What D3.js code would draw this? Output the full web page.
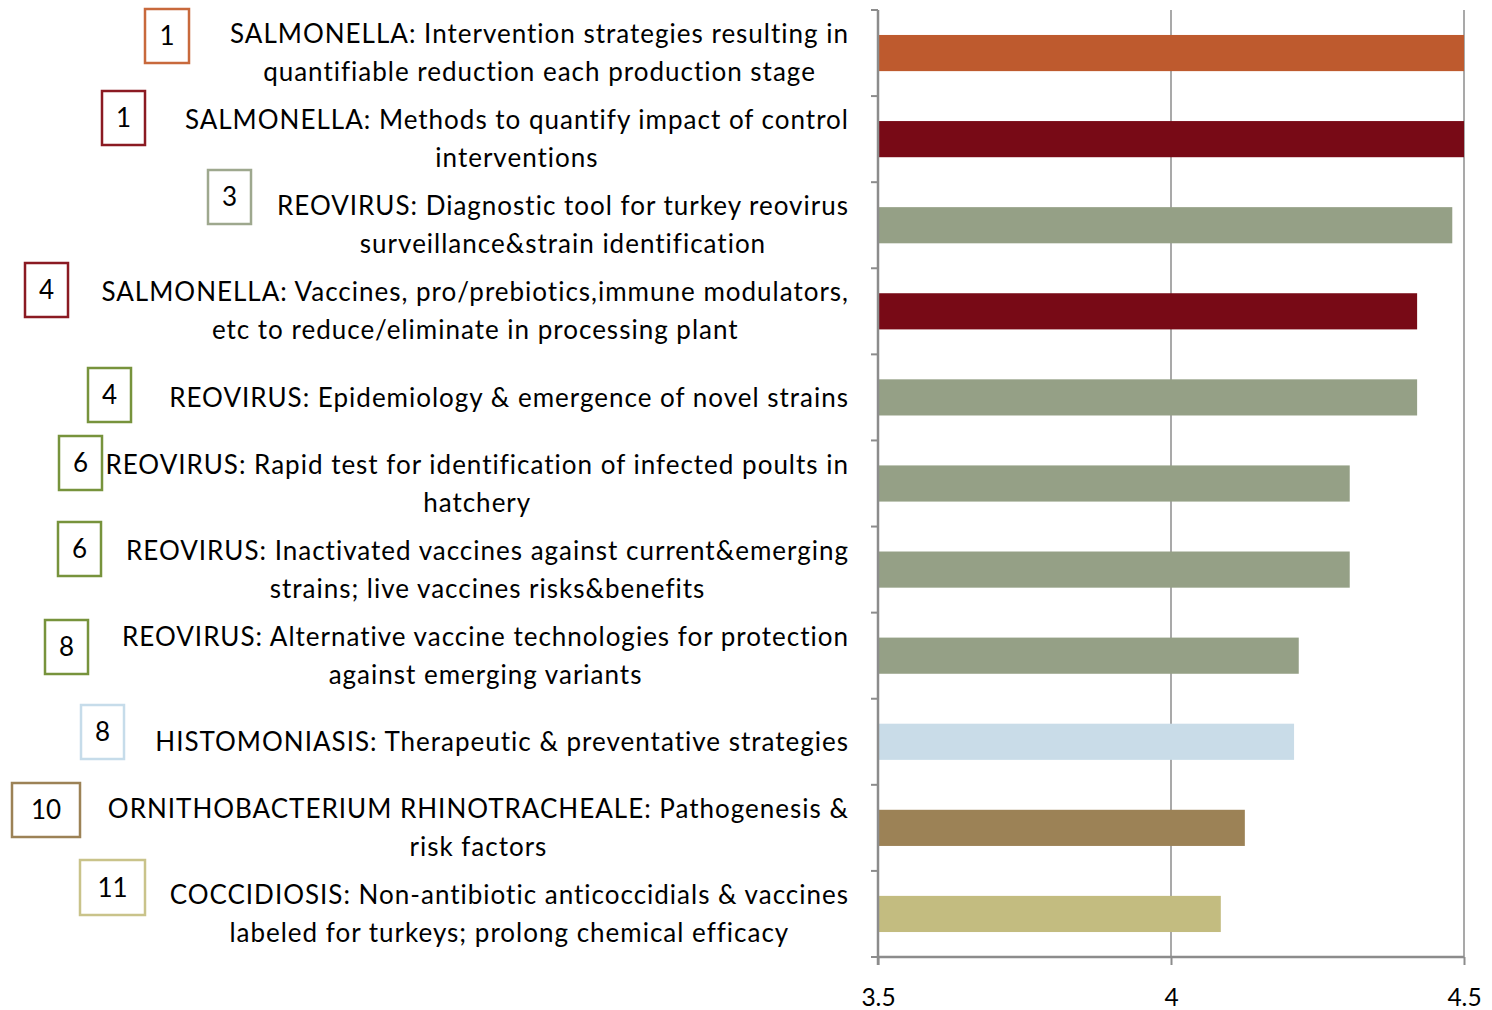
<!DOCTYPE html>
<html><head><meta charset="utf-8">
<script src="https://cdn.jsdelivr.net/npm/d3@7"></script>
<style>
html,body{margin:0;padding:0;background:#fff;}
svg{display:block;}
</style></head>
<body>
<svg id="chart" width="1492" height="1010"></svg>
<script>
// ---- data ----
const categories = [
  ["SALMONELLA: Intervention strategies resulting in", "quantifiable reduction each production stage"],
  ["SALMONELLA: Methods to quantify impact of control", "interventions"],
  ["REOVIRUS: Diagnostic tool for turkey reovirus", "surveillance&strain identification"],
  ["SALMONELLA: Vaccines, pro/prebiotics,immune modulators,", "etc to reduce/eliminate in processing plant"],
  ["REOVIRUS: Epidemiology & emergence of novel strains"],
  ["REOVIRUS: Rapid test for identification of infected poults in", "hatchery"],
  ["REOVIRUS: Inactivated vaccines against current&emerging", "strains; live vaccines risks&benefits"],
  ["REOVIRUS: Alternative vaccine technologies for protection", "against emerging variants"],
  ["HISTOMONIASIS: Therapeutic & preventative strategies"],
  ["ORNITHOBACTERIUM RHINOTRACHEALE: Pathogenesis &", "risk factors"],
  ["COCCIDIOSIS: Non-antibiotic anticoccidials & vaccines", "labeled for turkeys; prolong chemical efficacy"]
];
const values = [4.5, 4.5, 4.48, 4.42, 4.42, 4.305, 4.305, 4.218, 4.21, 4.126, 4.085];
const ranks = ["1", "1", "3", "4", "4", "6", "6", "8", "8", "10", "11"];
const xTicks = [3.5, 4, 4.5];

// ---- styles ----
const barColors = ["#BE5A2E", "#780A16", "#95A086", "#780A16", "#95A086", "#95A086", "#95A086", "#95A086", "#C9DCE8", "#9C8256", "#C3BC80"];
const boxColors = ["#C8693C", "#8B1A22", "#9EA88E", "#8B1A22", "#77933C", "#77933C", "#77933C", "#77933C", "#C6DCEA", "#9C8256", "#C9C38A"];
// rank box layout [left, top, width, height]
const boxLayout = [
  [145, 9, 44, 54], [102, 91, 43, 54], [208, 170, 43, 54], [25, 263, 43, 54],
  [88, 368, 43, 54], [59, 436, 43, 54], [58, 522, 43, 54], [45, 620, 43, 54],
  [81, 705, 43, 54], [12, 783, 68, 54], [80, 860, 65, 55]
];

const svg = d3.select("#chart");
const plotLeft = 878, plotRight = 1464, plotTop = 10, plotBottom = 957;
const fontFam = "Lato, 'Open Sans', sans-serif";

const x = d3.scaleLinear().domain([3.5, 4.5]).range([plotLeft, plotRight]);
const y = d3.scaleBand().domain(d3.range(categories.length))
  .range([plotTop, plotBottom]).paddingInner(0.58).paddingOuter(0.29);

// gridlines
svg.append("g").selectAll("line").data(xTicks.slice(1)).join("line")
  .attr("x1", d => x(d)).attr("x2", d => x(d))
  .attr("y1", plotTop).attr("y2", plotBottom)
  .attr("stroke", "#8c8c8c").attr("stroke-width", 1.5);

// bars
svg.append("g").selectAll("rect").data(values).join("rect")
  .attr("x", x(3.5)).attr("y", (d, i) => y(i))
  .attr("width", d => x(d) - x(3.5)).attr("height", y.bandwidth())
  .attr("fill", (d, i) => barColors[i]);

// x axis
const xAxis = svg.append("g").attr("transform", `translate(0,${plotBottom})`)
  .call(d3.axisBottom(x).tickValues(xTicks).tickFormat(d3.format("")).tickSize(8).tickPadding(24));
xAxis.select(".domain").attr("stroke", "#8c8c8c").attr("stroke-width", 2.5).attr("d", `M${plotLeft},0H${plotRight}`);
xAxis.selectAll(".tick line").attr("stroke", "#8c8c8c").attr("stroke-width", 2);
xAxis.selectAll(".tick text").attr("font-family", fontFam).attr("font-size", 24.5).attr("fill", "#000");

// y axis line & band boundary ticks
const yEdges = d3.range(categories.length + 1).map(i => plotTop + i * y.step());
svg.append("line").attr("x1", plotLeft).attr("x2", plotLeft).attr("y1", plotTop).attr("y2", plotBottom + 8)
  .attr("stroke", "#8c8c8c").attr("stroke-width", 2.5);
svg.append("g").selectAll("line").data(yEdges).join("line")
  .attr("x1", plotLeft - 7).attr("x2", plotLeft).attr("y1", d => d).attr("y2", d => d)
  .attr("stroke", "#8c8c8c").attr("stroke-width", 2);

// category labels: centered lines, block right aligned at 849
const labelRight = 849, lineH = 38, fs = 26;
const lg = svg.append("g").attr("font-family", fontFam).attr("font-size", fs)
  .attr("letter-spacing", "1px").attr("fill", "#000");
categories.forEach((lines, i) => {
  const cy = y(i) + y.bandwidth() / 2;
  const g = lg.append("g");
  const texts = lines.map((t, k) => g.append("text").text(t)
    .attr("y", cy + (k - (lines.length - 1) / 2) * lineH).attr("dy", "0.35em").attr("text-anchor", "middle"));
  const w = d3.max(texts, t => t.node().getComputedTextLength());
  texts.forEach(t => t.attr("x", labelRight - w / 2));
});

// rank boxes
const bg = svg.append("g");
ranks.forEach((r, i) => {
  const [bx, by, bw, bh] = boxLayout[i];
  bg.append("rect").attr("x", bx).attr("y", by).attr("width", bw).attr("height", bh)
    .attr("fill", "#fff").attr("stroke", boxColors[i]).attr("stroke-width", 2.5);
  bg.append("text").text(r).attr("x", bx + bw / 2).attr("y", by + bh / 2).attr("dy", "0.36em")
    .attr("text-anchor", "middle").attr("font-family", fontFam).attr("font-size", 26).attr("fill", "#000");
});
</script>
</body></html>
